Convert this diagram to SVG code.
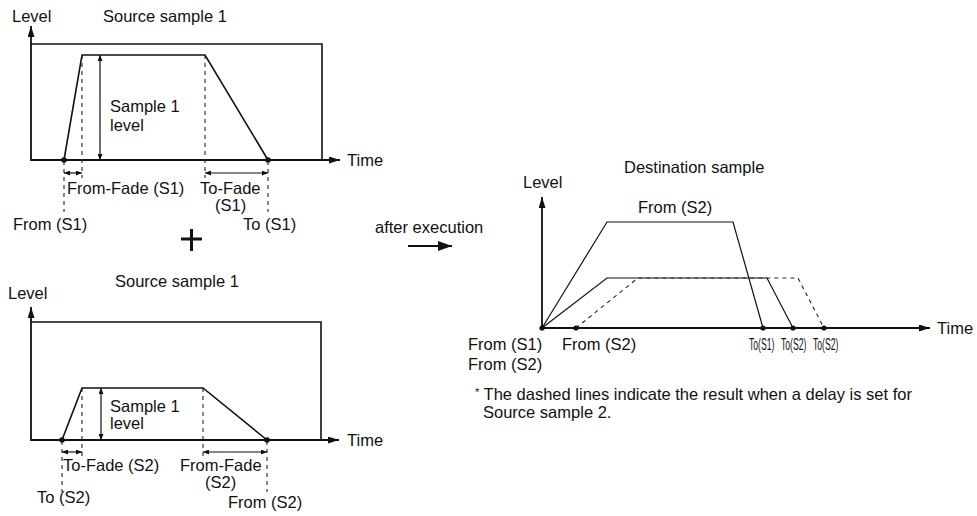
<svg xmlns="http://www.w3.org/2000/svg" width="977" height="516" viewBox="0 0 977 516">
<defs>
<style>
text { font-family: "Liberation Sans", Arial, Helvetica, sans-serif; font-size: 16.5px; fill: #111; }
.ln { fill: none; stroke: #111; stroke-width: 1.6; }
.ax { fill: none; stroke: #111; stroke-width: 1.8; }
.thin { fill: none; stroke: #111; stroke-width: 1.2; }
.dash { fill: none; stroke: #222; stroke-width: 1.1; stroke-dasharray: 4 4; }
.dot { fill: #111; }
</style>
<marker id="axh" viewBox="0 0 11 7" refX="11" refY="3.5" markerWidth="11" markerHeight="7" markerUnits="userSpaceOnUse" orient="auto">
<path d="M0,0 L11,3.5 L0,7 z" fill="#111"/>
</marker>
<marker id="dim" viewBox="0 0 6 5" refX="6" refY="2.5" markerWidth="6" markerHeight="5" markerUnits="userSpaceOnUse" orient="auto-start-reverse">
<path d="M0,0 L6,2.5 L0,5 z" fill="#111"/>
</marker>
<marker id="big" viewBox="0 0 14 10" refX="14" refY="5" markerWidth="14" markerHeight="10" markerUnits="userSpaceOnUse" orient="auto">
<path d="M0,0 L14,5 L0,10 z" fill="#111"/>
</marker>
</defs>

<g id="source1">
<text x="12" y="22">Level</text>
<text x="103" y="22">Source sample 1</text>
<path class="ln" d="M31,44 H322 V160"/>
<line class="ax" x1="31" y1="161" x2="31" y2="26" marker-end="url(#axh)"/>
<line class="ax" x1="31" y1="160" x2="340" y2="160" marker-end="url(#axh)"/>
<text x="347" y="166">Time</text>
<polyline class="ln" points="64,160 82,55 205,55 268,160"/>
<circle class="dot" cx="64" cy="160" r="2.8"/>
<circle class="dot" cx="268" cy="160" r="2.8"/>
<line class="thin" x1="100" y1="55" x2="100" y2="160" marker-start="url(#dim)" marker-end="url(#dim)"/>
<text x="110" y="112">Sample 1</text>
<text x="110" y="131">level</text>
<line class="dash" x1="82" y1="55" x2="82" y2="178"/>
<line class="dash" x1="205" y1="55" x2="205" y2="178"/>
<line class="dash" x1="64" y1="161" x2="64" y2="212"/>
<line class="dash" x1="268" y1="161" x2="268" y2="212"/>
<line class="thin" x1="64" y1="173" x2="82" y2="173" marker-start="url(#dim)" marker-end="url(#dim)"/>
<line class="thin" x1="205" y1="173" x2="268" y2="173" marker-start="url(#dim)" marker-end="url(#dim)"/>
<text x="67" y="194">From-Fade (S1)</text>
<text x="200" y="194">To-Fade</text>
<text x="215" y="211">(S1)</text>
<text x="13" y="230">From (S1)</text>
<text x="243" y="230">To (S1)</text>
</g>

<g id="plus">
<line x1="181" y1="239" x2="202" y2="239" stroke="#111" stroke-width="3"/>
<line x1="191.5" y1="229" x2="191.5" y2="251" stroke="#111" stroke-width="3"/>
</g>

<g id="source2">
<text x="115" y="287">Source sample 1</text>
<text x="8" y="299">Level</text>
<path class="ln" d="M31,322 H321 V440"/>
<line class="ax" x1="31" y1="441" x2="31" y2="307" marker-end="url(#axh)"/>
<line class="ax" x1="31" y1="440" x2="339" y2="440" marker-end="url(#axh)"/>
<text x="347" y="446">Time</text>
<polyline class="ln" points="62,440 82,388 203,388 267,440"/>
<circle class="dot" cx="62" cy="440" r="2.8"/>
<circle class="dot" cx="267" cy="440" r="2.8"/>
<line class="thin" x1="101" y1="388" x2="101" y2="440" marker-start="url(#dim)" marker-end="url(#dim)"/>
<text x="110" y="412">Sample 1</text>
<text x="110" y="429">level</text>
<line class="dash" x1="82" y1="388" x2="82" y2="458"/>
<line class="dash" x1="203" y1="388" x2="203" y2="458"/>
<line class="dash" x1="62" y1="441" x2="62" y2="492"/>
<line class="dash" x1="267" y1="441" x2="267" y2="492"/>
<line class="thin" x1="62" y1="452" x2="82" y2="452" marker-start="url(#dim)" marker-end="url(#dim)"/>
<line class="thin" x1="203" y1="452" x2="267" y2="452" marker-start="url(#dim)" marker-end="url(#dim)"/>
<text x="63" y="471">To-Fade (S2)</text>
<text x="180" y="471">From-Fade</text>
<text x="205" y="488">(S2)</text>
<text x="37" y="503">To (S2)</text>
<text x="228" y="508">From (S2)</text>
</g>

<g id="after-execution">
<text x="375" y="233">after execution</text>
<line x1="408" y1="246" x2="452" y2="246" stroke="#111" stroke-width="2" marker-end="url(#big)"/>
</g>

<g id="destination">
<text x="624" y="173">Destination sample</text>
<text x="523" y="188">Level</text>
<line class="ax" x1="542" y1="329" x2="542" y2="197" marker-end="url(#axh)"/>
<line class="ax" x1="542" y1="328" x2="930" y2="328" marker-end="url(#axh)"/>
<text x="937" y="334">Time</text>
<polyline class="thin" points="542,328 607,222 733,222 763,328"/>
<polyline class="thin" points="542,328 607,278 767,278 793,328"/>
<polyline class="dash" points="576,328 638,278 798,278 824,328"/>
<text x="638" y="213">From (S2)</text>
<circle class="dot" cx="542" cy="328" r="2.6"/>
<circle class="dot" cx="576" cy="328" r="2.6"/>
<circle class="dot" cx="763" cy="328" r="2.6"/>
<circle class="dot" cx="793" cy="328" r="2.6"/>
<circle class="dot" cx="824" cy="328" r="2.6"/>
<text x="468" y="350">From (S1)</text>
<text x="468" y="370">From (S2)</text>
<text x="562" y="350">From (S2)</text>
<text transform="translate(749,350) scale(0.52,1)">To(S1)</text>
<text transform="translate(781,350) scale(0.52,1)">To(S2)</text>
<text transform="translate(813,350) scale(0.52,1)">To(S2)</text>
<text x="475" y="400"><tspan font-size="11" dy="-4">*</tspan><tspan dy="4"> The dashed lines indicate the result when a delay is set for</tspan></text>
<text x="483" y="418">Source sample 2.</text>
</g>
</svg>
